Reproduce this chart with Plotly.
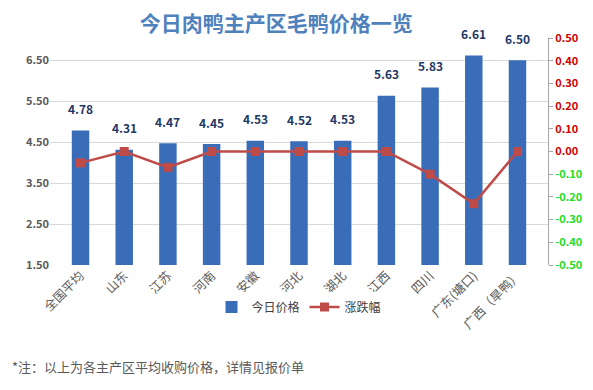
import plotly.graph_objects as go

categories = ["全国平均", "山东", "江苏", "河南", "安徽", "河北", "湖北", "江西", "四川", "广东(塘口)", "广西（旱鸭）"]
prices = [4.78, 4.31, 4.47, 4.45, 4.53, 4.52, 4.53, 5.63, 5.83, 6.61, 6.50]
changes = [-0.05, 0.00, -0.07, 0.00, 0.00, 0.00, 0.00, 0.00, -0.10, -0.23, 0.00]
left_ticks = [1.5, 2.5, 3.5, 4.5, 5.5, 6.5]
right_ticks = [0.5, 0.4, 0.3, 0.2, 0.1, 0.0, -0.1, -0.2, -0.3, -0.4, -0.5]

font_family = "Noto Sans CJK SC, Noto Sans, sans-serif"

fig = go.Figure()
fig.add_trace(go.Bar(
    x=categories, y=prices, name="今日价格",
    marker=dict(color="#3a6db8", line=dict(width=0)),
    width=0.4, yaxis="y",
))
fig.add_trace(go.Scatter(
    x=categories, y=changes, name="涨跌幅", yaxis="y2",
    mode="lines+markers",
    line=dict(color="#bf4b48", width=2.5),
    marker=dict(symbol="square", size=9, color="#bf4b48"),
))

for c, p in zip(categories, prices):
    fig.add_annotation(x=c, y=p, xref="x", yref="y", text=f"<b>{p:.2f}</b>",
                       showarrow=False, yshift=22,
                       font=dict(size=12, color="#1f3864", family=font_family))

right_text = []
for v in right_ticks:
    col = "#d00000" if v >= 0 else "#22dd22"
    right_text.append(f"<span style='color:{col}'><b>{v:.2f}</b></span>")

fig.update_layout(
    width=593, height=390,
    margin=dict(l=50, r=45, t=38, b=125, autoexpand=False),
    paper_bgcolor="white", plot_bgcolor="white",
    font=dict(family=font_family, color="#595959"),
    title=dict(text="<b>今日肉鸭主产区毛鸭价格一览</b>", x=0.466, xanchor="center", y=0.94, yanchor="middle",
               font=dict(size=21, color="#4f81bd", family=font_family)),
    showlegend=True,
    legend=dict(orientation="h", x=0.5, xanchor="center", y=-0.185, yanchor="middle",
                font=dict(size=12, color="#404040")),
    xaxis=dict(tickangle=-45, tickfont=dict(size=12.5, color="#595959"), showline=False,
               ticks="", showgrid=False, automargin=False),
    yaxis=dict(range=[1.5, 7.04], tickvals=left_ticks, ticktext=[f"<b>{v:.2f}</b>" for v in left_ticks],
               tickfont=dict(size=11, color="#595959"), showgrid=True, gridcolor="#d9d9d9",
               zeroline=False, showline=False, automargin=False),
    yaxis2=dict(range=[-0.5, 0.5], overlaying="y", side="right", tickvals=right_ticks,
                ticktext=right_text, tickfont=dict(size=11), showgrid=False, zeroline=False,
                showline=True, linecolor="#a6a6a6", linewidth=1, ticks="outside", ticklen=4,
                tickcolor="#a6a6a6", automargin=False),
)

fig.add_annotation(text="*注：以上为各主产区平均收购价格，详情见报价单", xref="paper", yref="paper",
                   x=-0.08, y=-0.449, xanchor="left", yanchor="middle", showarrow=False,
                   font=dict(size=13, color="#595959", family=font_family))

fig.write_html("out.html", config={"displayModeBar": False},
               post_script="document.body.style.margin='0';document.body.style.padding='0';")
